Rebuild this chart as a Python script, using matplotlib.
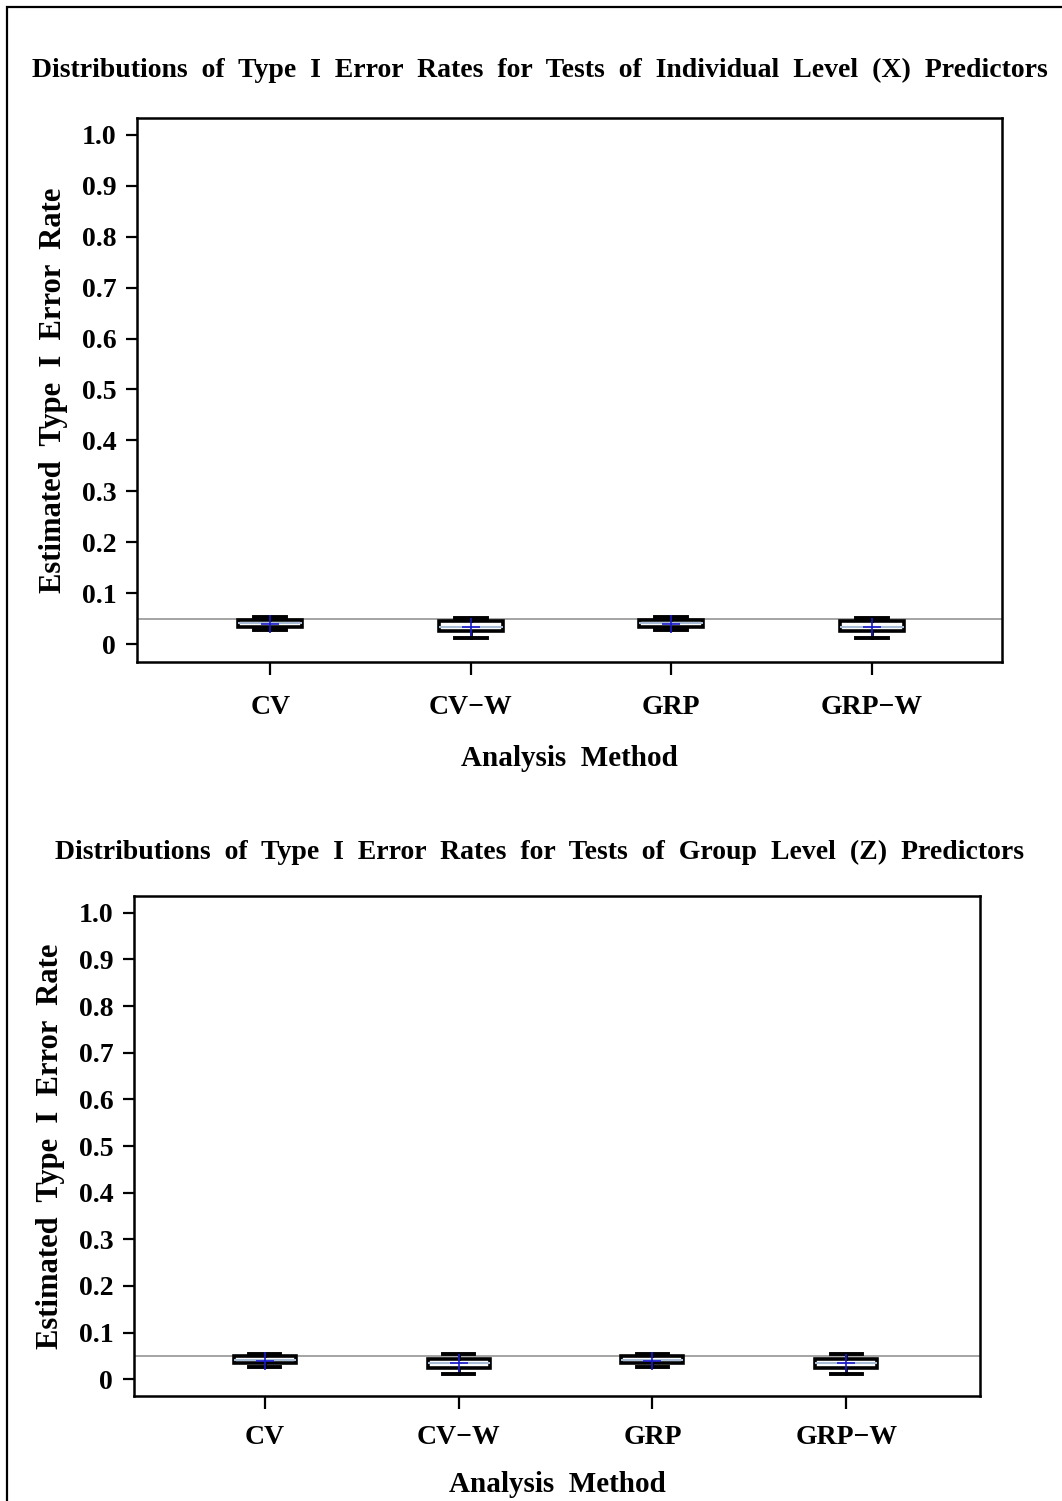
import matplotlib
matplotlib.use('Agg')
import matplotlib.pyplot as plt
from matplotlib.patches import Rectangle

# data
methods = ['CV', 'CV\u2212W', 'GRP', 'GRP\u2212W']

x_low = [0.028, 0.012, 0.028, 0.012]
x_q1 = [0.034, 0.026, 0.034, 0.026]
x_med = [0.041, 0.034, 0.041, 0.034]
x_q3 = [0.048, 0.045, 0.048, 0.045]
x_high = [0.053, 0.051, 0.053, 0.051]
x_mean = [0.040, 0.034, 0.040, 0.034]

z_low = [0.026, 0.012, 0.026, 0.012]
z_q1 = [0.034, 0.025, 0.034, 0.025]
z_med = [0.041, 0.034, 0.041, 0.034]
z_q3 = [0.049, 0.044, 0.049, 0.044]
z_high = [0.054, 0.053, 0.054, 0.053]
z_mean = [0.040, 0.034, 0.040, 0.034]

nominal = 0.05
yticks = [0, 0.1, 0.2, 0.3, 0.4, 0.5, 0.6, 0.7, 0.8, 0.9, 1.0]
ytick_labels = ['0', '0.1', '0.2', '0.3', '0.4', '0.5', '0.6', '0.7', '0.8', '0.9', '1.0']

titles = ['Distributions of Type I Error Rates for Tests of Individual Level (X) Predictors',
          'Distributions of Type I Error Rates for Tests of Group Level (Z) Predictors']
xlabel = 'Analysis Method'
ylabel = 'Estimated Type I Error Rate'

plt.rcParams['font.family'] = ['Liberation Serif', 'DejaVu Serif']
plt.rcParams['font.weight'] = 'bold'

W, H = 1062, 1501
fig = plt.figure(figsize=(W / 100, H / 100), dpi=100)

def wide(s):
    # the original font has very wide word gaps
    return s.replace(' ', '  ')

def box_stats(lo, q1, med, q3, hi, mean):
    return [dict(whislo=lo[i], q1=q1[i], med=med[i], q3=q3[i], whishi=hi[i],
                 mean=mean[i], fliers=[]) for i in range(len(lo))]

def draw_panel(rect, stats, xlim, ylim, title, title_y, xpad, xlabpad):
    l, t, r, b = rect
    ax = fig.add_axes([l / W, 1 - b / H, (r - l) / W, (b - t) / H])
    pos = list(range(1, len(methods) + 1))
    ax.bxp(stats, positions=pos, widths=0.32, capwidths=0.16, showmeans=True,
           patch_artist=True,
           boxprops=dict(facecolor='white', edgecolor='black', linewidth=2.6),
           whiskerprops=dict(color='black', linewidth=2),
           capprops=dict(color='black', linewidth=2.8),
           medianprops=dict(color='#a9bdd6', linewidth=1.5),
           meanprops=dict(marker='+', markeredgecolor='#1a1acc', markersize=13,
                          markeredgewidth=1.2))
    ax.axhline(nominal, color='#8c8c8c', linewidth=1.1, zorder=0)
    ax.set_xlim(*xlim)
    ax.set_ylim(*ylim)
    ax.set_xticks(pos)
    ax.set_xticklabels(methods, fontsize=20, fontweight='bold')
    ax.set_yticks(yticks)
    ax.set_yticklabels(ytick_labels, fontsize=20, fontweight='bold')
    ax.tick_params(axis='y', direction='out', length=8, width=1.6, pad=7)
    ax.tick_params(axis='x', direction='out', length=9, width=1.6, pad=xpad)
    for s in ax.spines.values():
        s.set_linewidth(1.8)
    ax.set_xlabel(wide(xlabel), fontsize=21, fontweight='bold', labelpad=xlabpad)
    ax.set_ylabel(wide(ylabel), fontsize=22, fontweight='bold', labelpad=10)
    fig.text(0.508, 1 - title_y / H, wide(title), ha='center', va='center',
             fontsize=20, fontweight='bold')
    return ax

draw_panel((137, 118, 1002, 662),
           box_stats(x_low, x_q1, x_med, x_q3, x_high, x_mean),
           (0.335, 4.65), (-0.0347, 1.0327), titles[0], 70, 15, 18)
draw_panel((134, 896, 980, 1396),
           box_stats(z_low, z_q1, z_med, z_q3, z_high, z_mean),
           (0.325, 4.69), (-0.036, 1.036), titles[1], 852, 12, 15)

# outer frame (runs off the right and bottom edges)
fig.patches.append(Rectangle((7 / W, -0.1), 2, 1 - 7 / H + 0.1, transform=fig.transFigure,
                             fill=False, edgecolor='black', linewidth=1.6))

fig.savefig('out.png', dpi=100)
